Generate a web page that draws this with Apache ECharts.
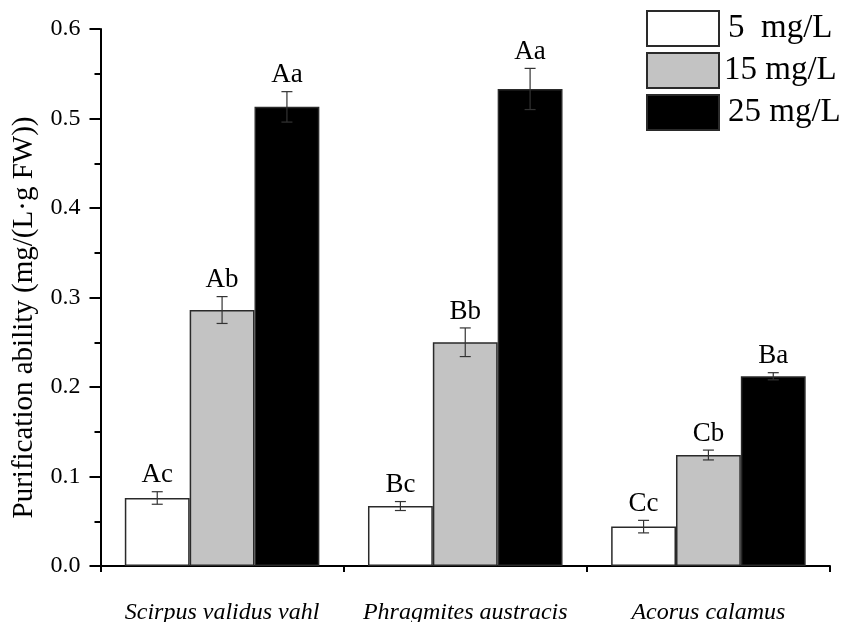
<!DOCTYPE html>
<html>
<head>
<meta charset="utf-8">
<script src="https://cdn.jsdelivr.net/npm/echarts@6/dist/echarts.min.js"></script>
<style>html,body{margin:0;padding:0;background:#fff}#c{width:841px;height:622px}</style>
</head>
<body>
<div id="c"></div>
<script>
const categories = ['Scirpus validus vahl', 'Phragmites austracis', 'Acorus calamus'];
const seriesNames = ['5  mg/L', '15 mg/L', '25 mg/L'];
const values5 = [0.076, 0.067, 0.044];
const values15 = [0.286, 0.250, 0.124];
const values25 = [0.513, 0.533, 0.212];
const errors5 = [0.007, 0.005, 0.007];
const errors15 = [0.015, 0.016, 0.0055];
const errors25 = [0.017, 0.023, 0.004];
const letters5 = ['Ac', 'Bc', 'Cc'];
const letters15 = ['Ab', 'Bb', 'Cb'];
const letters25 = ['Aa', 'Aa', 'Ba'];
const yTicks = [0, 0.1, 0.2, 0.3, 0.4, 0.5, 0.6];

const FONT = 'Liberation Serif';
const colors = ['#ffffff', '#c3c3c3', '#000000'];
const allValues = [values5, values15, values25];
const allErrors = [errors5, errors15, errors25];
const allLetters = [letters5, letters15, letters25];

const chart = echarts.init(document.getElementById('c'), null, {renderer: 'canvas'});

const barSeries = seriesNames.map((n, k) => ({
  name: n,
  type: 'bar',
  data: allValues[k],
  barGap: '0%',
  barCategoryGap: '20%',
  itemStyle: {color: colors[k], borderColor: '#2a2a2a', borderWidth: 1.5},
  z: 2
}));

const errSeries = seriesNames.map((n, k) => ({
  type: 'custom',
  z: 5,
  silent: true,
  data: categories.map((c, i) => [i, allValues[k][i], allErrors[k][i]]),
  encode: {x: 0, y: 1},
  renderItem: function (params, api) {
    const idx = api.value(0);
    const v = api.value(1);
    const e = api.value(2);
    const band = api.size([1, 0])[0];
    const bw = band * 0.8 / 3;
    const top = api.coord([idx, v + e]);
    const bot = api.coord([idx, v - e]);
    const x = top[0] + (k - 1) * bw;
    const cap = 5.5;
    const st = {stroke: '#333', lineWidth: 1.2};
    const label = allLetters[k][idx];
    return {
      type: 'group',
      children: [
        {type: 'line', shape: {x1: x, y1: top[1], x2: x, y2: bot[1]}, style: st},
        {type: 'line', shape: {x1: x - cap, y1: top[1], x2: x + cap, y2: top[1]}, style: st},
        {type: 'line', shape: {x1: x - cap, y1: bot[1], x2: x + cap, y2: bot[1]}, style: st},
        {type: 'text', style: {text: label, x: x, y: top[1] - 3, align: 'center', verticalAlign: 'bottom',
          font: '27px "' + FONT + '"', fill: '#000'}}
      ]
    };
  }
}));

const option = {
  animation: false,
  backgroundColor: '#fff',
  grid: {left: 100.5, right: 11, top: 29, bottom: 56, containLabel: false, outerBoundsMode: 'none'},
  legend: {
    orient: 'vertical',
    left: 646,
    top: 10,
    padding: 0,
    itemWidth: 72,
    itemHeight: 35,
    itemGap: 5,
    icon: 'rect',
    selectedMode: false,
    textStyle: {fontFamily: FONT, fontSize: 33, color: '#000'},
    data: [
      {name: seriesNames[0], textStyle: {padding: [0, 0, 0, 4]}},
      {name: seriesNames[1]},
      {name: seriesNames[2], textStyle: {padding: [0, 0, 0, 4]}}
    ]
  },
  xAxis: [
    {
      type: 'category',
      data: categories,
      axisLine: {lineStyle: {color: '#000', width: 2}},
      axisTick: {alignWithLabel: true, length: 10, lineStyle: {color: '#000', width: 2}},
      axisLabel: {fontFamily: FONT, fontStyle: 'italic', fontSize: 24, color: '#000', margin: 35, interval: 0, hideOverlap: false}
    },
    {
      type: 'value',
      min: 0, max: 3, interval: 1,
      position: 'bottom',
      axisLine: {show: false},
      axisTick: {show: true, length: 6, lineStyle: {color: '#000', width: 2}},
      axisLabel: {show: false},
      splitLine: {show: false}
    }
  ],
  yAxis: {
    type: 'value',
    min: 0, max: 0.6, interval: 0.1,
    name: 'Purification ability (mg/(L·g FW))',
    nameLocation: 'middle',
    nameGap: 62,
    nameTextStyle: {fontFamily: FONT, fontSize: 29, color: '#000', padding: [0, 40, 0, 0]},
    axisLine: {show: true, lineStyle: {color: '#000', width: 2}},
    axisTick: {show: true, length: 11, lineStyle: {color: '#000', width: 2}},
    minorTick: {show: true, splitNumber: 2, length: 6, lineStyle: {color: '#000', width: 2}},
    splitLine: {show: false},
    axisLabel: {fontFamily: FONT, fontSize: 24, color: '#000', margin: 20,
      formatter: v => {
        const t = yTicks.find(x => Math.abs(x - v) < 1e-9);
        return (t !== undefined ? t : v).toFixed(1);
      }}
  },
  series: barSeries.concat(errSeries)
};
chart.setOption(option);
</script>
</body>
</html>
